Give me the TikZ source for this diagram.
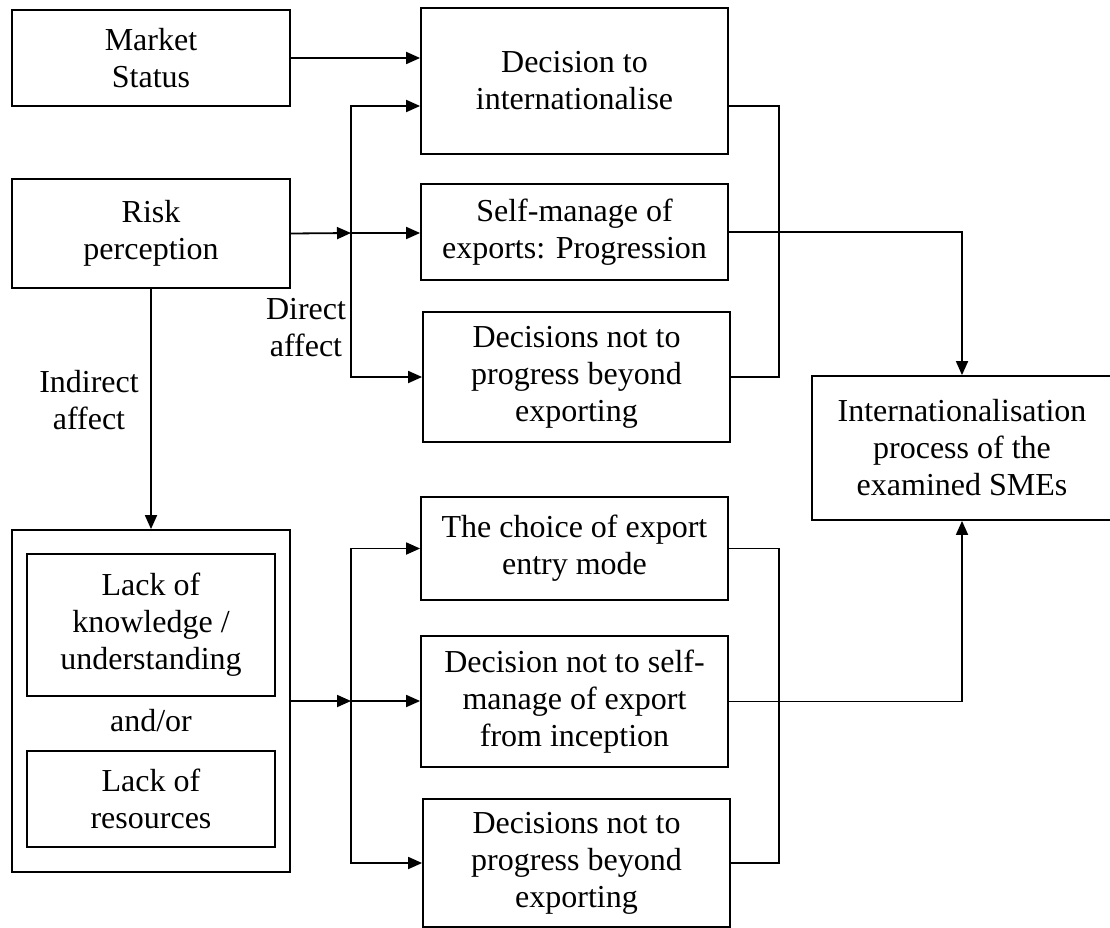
\documentclass[tikz,border=0pt]{standalone}
\usepackage{fontspec}
\setmainfont{Liberation Serif}
\usetikzlibrary{arrows.meta,calc}

\begin{document}
\begin{tikzpicture}[x=1pt, y=-1pt, line width=1.8pt,
        box/.style={draw, inner sep=0pt, align=center, font=\fontsize{32}{37}\selectfont},
        lbl/.style={align=center, font=\fontsize{32}{37}\selectfont},
        arr/.style={-{Triangle[length=14pt,width=12pt]}}]
        \useasboundingbox[fill=white] (0,0) rectangle (1110,928);
        \node[box, minimum width=278pt, minimum height=96pt] (market) at (151,58) {Market\\Status};
        \node[box, minimum width=278pt, minimum height=109pt] (risk) at (151,233.5) {Risk\\perception};
        \node[box, minimum width=307pt, minimum height=146pt] (decide) at (574.5,81) {Decision to\\internationalise};
        \node[box, minimum width=307pt, minimum height=96pt] (selfman) at (574.5,232) {Self-manage of\\exports: Progression};
        \node[box, minimum width=307pt, minimum height=130pt] (noprogA) at (576.5,377) {Decisions not to\\progress beyond\\exporting};
        \node[box, minimum width=300pt, minimum height=144pt] (intl) at (962,448) {Internationalisation\\process of the\\examined SMEs};
        \node[box, minimum width=307pt, minimum height=103pt] (choice) at (574.5,548.5) {The choice of export\\entry mode};
        \node[box, minimum width=307pt, minimum height=131pt] (noself) at (574.5,701.5) {Decision not to self-\\manage of export\\from inception};
        \node[box, minimum width=307pt, minimum height=128pt] (noprogB) at (576.5,863) {Decisions not to\\progress beyond\\exporting};
        \node[box, minimum width=278pt, minimum height=342pt] (lack) at (151,701) {};
        \node[box, minimum width=248pt, minimum height=142pt] (know) at (151,625) {Lack of\\knowledge /\\understanding};
        \node[lbl] (andor) at (151,721) {and/or};
        \node[box, minimum width=248pt, minimum height=96pt] (res) at (151,799) {Lack of\\resources};
        \node[lbl] (direct) at (306,328) {Direct\\affect};
        \node[lbl] (indirect) at (89,400) {Indirect\\affect};
        \coordinate (j1) at (351,233);
        \coordinate (j2) at (351,701);
        \draw[arr] (market.east) -- (market.east -| decide.west);
        \draw[arr] (risk.east) -- (j1);
        \draw[arr] (j1) -- (j1 -| selfman.west);
        \draw[arr] (j1) |- ($(decide.west)+(0,25)$);
        \draw[arr] (j1) |- (noprogA.west);
        \draw[arr] (risk.south) -- (lack.north);
        \draw ($(decide.east)+(0,25)$) -| ($(noprogA.east)+(48,0)$) -- (noprogA.east);
        \draw[arr] (selfman.east) -| (intl.north);
        \draw[arr] (lack.east) -- (j2);
        \draw[arr] (j2) -- (j2 -| noself.west);
        \draw[arr] (j2) |- (choice.west);
        \draw[arr] (j2) |- (noprogB.west);
        \draw (choice.east) -| ($(noprogB.east)+(48,0)$) -- (noprogB.east);
        \draw[arr] (noself.east) -| (intl.south);
\end{tikzpicture}
\end{document}
